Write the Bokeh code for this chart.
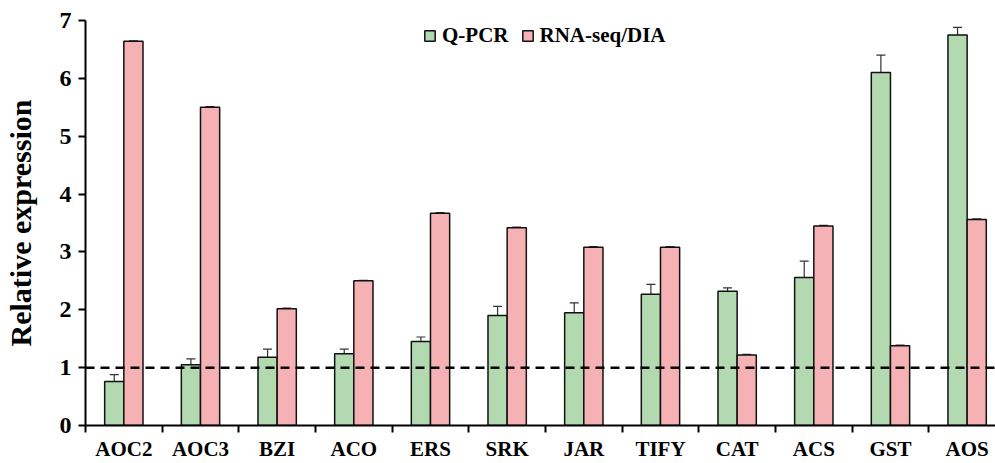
from bokeh.plotting import figure
from bokeh.models import (ColumnDataSource, Range1d, FixedTicker, Whisker, Span,
                          Legend, LegendItem)
from bokeh.embed import file_html
from bokeh.resources import INLINE

categories = ["AOC2", "AOC3", "BZI", "ACO", "ERS", "SRK", "JAR", "TIFY", "CAT", "ACS", "GST", "AOS"]
qpcr = [0.76, 1.05, 1.18, 1.24, 1.45, 1.90, 1.95, 2.27, 2.32, 2.56, 6.10, 6.75]
qpcr_err = [0.12, 0.10, 0.14, 0.08, 0.08, 0.16, 0.17, 0.17, 0.06, 0.28, 0.30, 0.13]
rnaseq = [6.64, 5.50, 2.02, 2.50, 3.67, 3.42, 3.08, 3.08, 1.22, 3.45, 1.38, 3.56]
rnaseq_err = [0.01, 0.01, 0.01, 0.01, 0.01, 0.01, 0.01, 0.01, 0.01, 0.01, 0.01, 0.01]
y_ticks = [0, 1, 2, 3, 4, 5, 6, 7]
baseline = 1

FONT = "Liberation Serif"
GREEN = "#b3d9b1"
PINK = "#f6b1b4"

n = len(categories)
centers = [i + 0.5 for i in range(n)]
bw = 0.25

src_q = ColumnDataSource(dict(
    x=[c - bw / 2 for c in centers], top=qpcr,
    upper=[v + e for v, e in zip(qpcr, qpcr_err)],
    lower=[v - e for v, e in zip(qpcr, qpcr_err)]))
src_r = ColumnDataSource(dict(
    x=[c + bw / 2 for c in centers], top=rnaseq,
    upper=[v + e for v, e in zip(rnaseq, rnaseq_err)],
    lower=[v - e for v, e in zip(rnaseq, rnaseq_err)]))

p = figure(width=995, height=463, output_backend="svg", toolbar_location=None,
           x_range=Range1d(0, 11.87), y_range=Range1d(0, 7),
           min_border_left=83, min_border_right=0, min_border_top=20,
           min_border_bottom=38)
p.outline_line_color = None
p.xgrid.visible = False
p.ygrid.visible = False

rq = p.vbar(x="x", top="top", bottom=0, width=bw, source=src_q,
            fill_color=GREEN, line_color="#111111", line_width=1.5)
rr = p.vbar(x="x", top="top", bottom=0, width=bw, source=src_r,
            fill_color=PINK, line_color="#111111", line_width=1.5)

for src in (src_q, src_r):
    w = Whisker(base="x", upper="upper", lower="lower", source=src,
                line_color="#333333", line_width=1.2)
    w.upper_head.size = 9
    w.lower_head.size = 9
    w.upper_head.line_color = "#333333"
    w.lower_head.line_color = "#333333"
    w.upper_head.line_width = 1.2
    w.lower_head.line_width = 1.2
    p.add_layout(w)

p.add_layout(Span(location=baseline, dimension="width", line_color="black",
                  line_width=2.5, line_dash="9 6"))

# x axis
p.xaxis.ticker = FixedTicker(ticks=centers, minor_ticks=list(range(n)))
p.xaxis.major_label_overrides = {c: lab for c, lab in zip(centers, categories)}
p.xaxis.major_tick_line_color = None
p.xaxis.major_tick_out = 0
p.xaxis.major_tick_in = 0
p.xaxis.minor_tick_out = 7
p.xaxis.minor_tick_in = 0
p.xaxis.minor_tick_line_color = "black"
p.xaxis.minor_tick_line_width = 2
p.xaxis.axis_line_width = 2
p.xaxis.major_label_standoff = 4
p.xaxis.major_label_text_font = FONT
p.xaxis.major_label_text_font_style = "bold"
p.xaxis.major_label_text_font_size = "21px"
p.xaxis.major_label_text_color = "black"

# y axis
p.yaxis.ticker = FixedTicker(ticks=y_ticks, minor_ticks=[])
p.yaxis.major_tick_out = 7
p.yaxis.major_tick_in = 0
p.yaxis.major_tick_line_width = 2
p.yaxis.axis_line_width = 2
p.yaxis.major_label_standoff = 7
p.yaxis.major_label_text_font = FONT
p.yaxis.major_label_text_font_style = "bold"
p.yaxis.major_label_text_font_size = "24px"
p.yaxis.major_label_text_color = "black"
p.yaxis.axis_label = "Relative expression"
p.yaxis.axis_label_text_font = FONT
p.yaxis.axis_label_text_font_style = "bold"
p.yaxis.axis_label_text_font_size = "30px"
p.yaxis.axis_label_text_color = "black"
p.yaxis.axis_label_standoff = 20

legend = Legend(items=[LegendItem(label="Q-PCR", renderers=[rq]),
                       LegendItem(label="RNA-seq/DIA", renderers=[rr])],
                orientation="horizontal", location=(338, 377),
                label_text_font=FONT, label_text_font_style="bold",
                label_text_font_size="21px", label_text_color="black",
                glyph_width=13, glyph_height=13, spacing=12, padding=0,
                label_standoff=6, border_line_color=None,
                background_fill_alpha=0, margin=0)
p.add_layout(legend, "center")

open("out.html", "w").write(file_html(p, INLINE))
